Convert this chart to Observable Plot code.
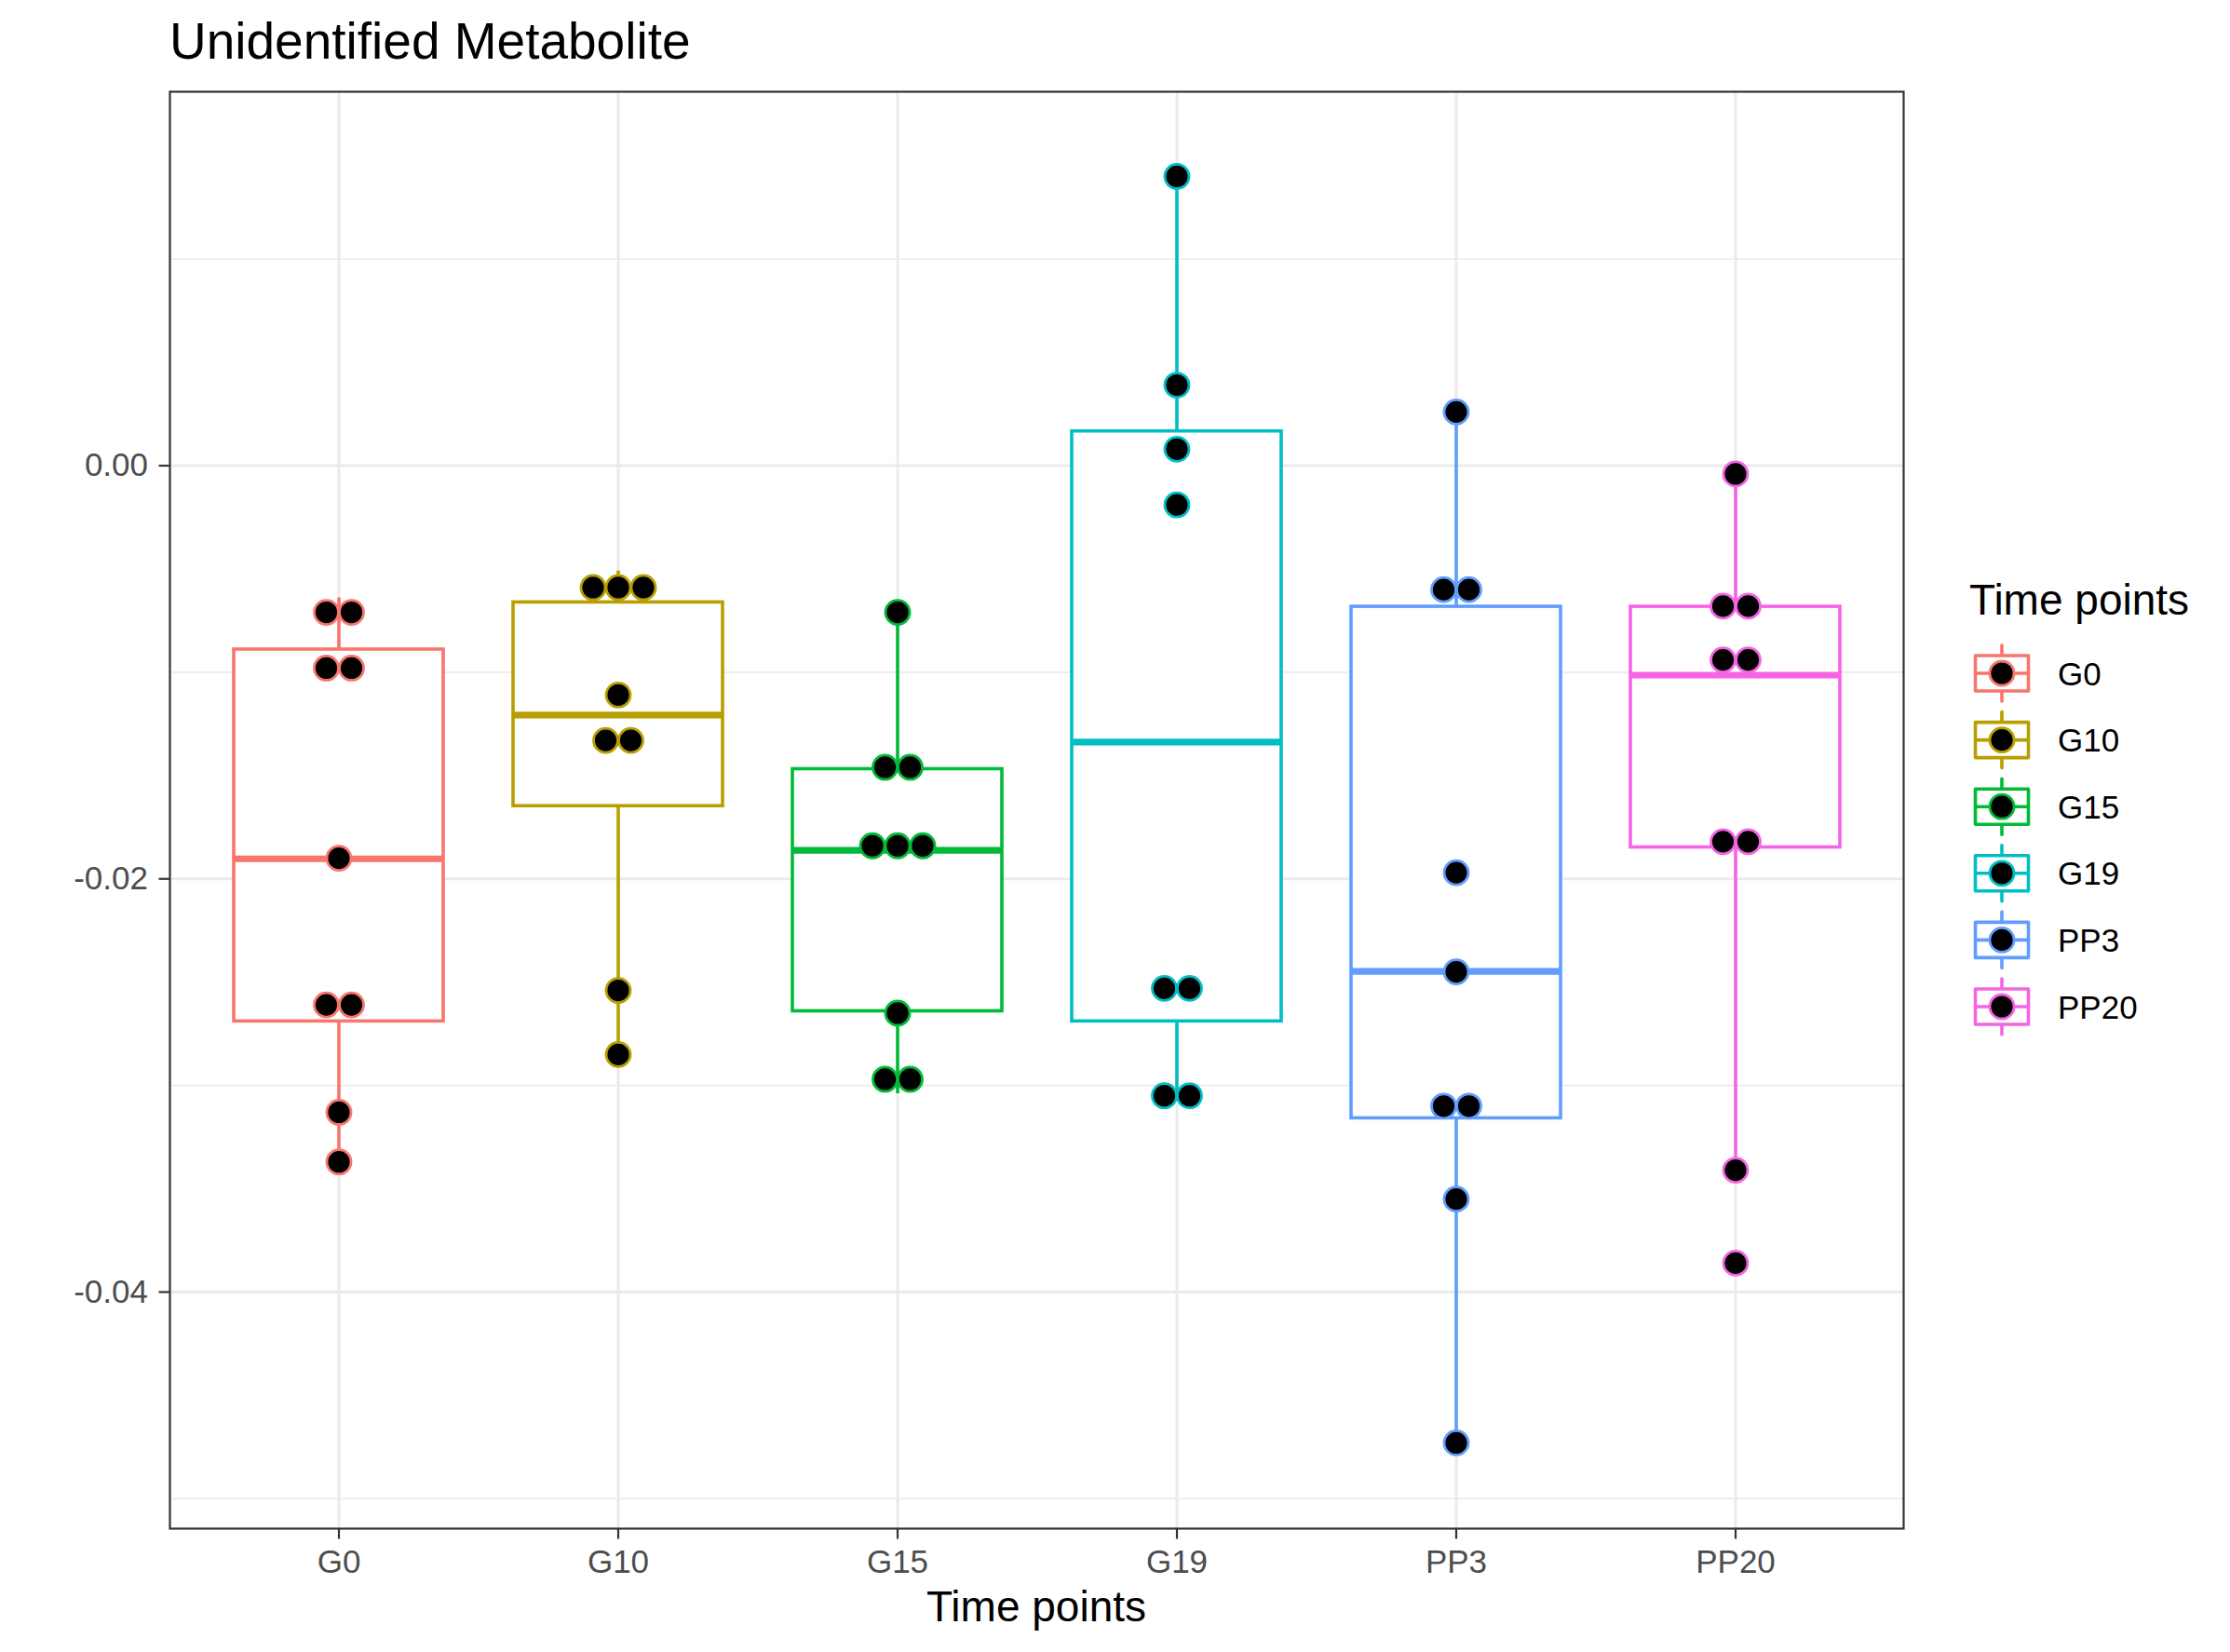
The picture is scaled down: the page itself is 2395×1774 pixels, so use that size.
<!DOCTYPE html>
<html>
<head>
<meta charset="utf-8">
<script src="https://cdn.jsdelivr.net/npm/d3@7"></script>
<script src="https://cdn.jsdelivr.net/npm/@observablehq/plot@0.6"></script>
<style>
  body { margin: 0; background: #ffffff; }
  #chart svg { display: block; }
</style>
</head>
<body>
<div id="chart"></div>
<script>
// ---------- data ----------
const groups = ["G0", "G10", "G15", "G19", "PP3", "PP20"];
const colors = ["#F8766D", "#B79F00", "#00BA38", "#00BFC4", "#619CFF", "#F564E3"];

// box statistics per group
const whiskerLow  = [-0.03366, -0.02848, -0.0304, -0.0305, -0.0473, -0.03414];
const q1          = [-0.0269, -0.01648, -0.02641, -0.0269, -0.03159, -0.01848];
const median      = [-0.01903, -0.01207, -0.01862, -0.01338, -0.02448, -0.01014];
const q3          = [-0.0089, -0.00662, -0.01469, 0.00166, -0.00683, -0.00683];
const whiskerHigh = [-0.0064, -0.0051, -0.0071, 0.0140, 0.00255, -0.00034];

// dot (binned) values per group
const dotsG0   = [-0.0071, -0.0071, -0.0098, -0.0098, -0.0190, -0.0261, -0.0261, -0.0313, -0.0337];
const dotsG10  = [-0.0059, -0.0059, -0.0059, -0.0111, -0.0133, -0.0133, -0.0254, -0.0285];
const dotsG15  = [-0.0071, -0.0146, -0.0146, -0.0184, -0.0184, -0.0184, -0.0265, -0.0297, -0.0297];
const dotsG19  = [0.0140, 0.0039, 0.0008, -0.0019, -0.0253, -0.0253, -0.0305, -0.0305];
const dotsPP3  = [0.0026, -0.0060, -0.0060, -0.0197, -0.0245, -0.0310, -0.0310, -0.0355, -0.0473];
const dotsPP20 = [-0.0004, -0.0068, -0.0068, -0.0094, -0.0094, -0.0182, -0.0182, -0.0341, -0.0386];

const yTicks = [0, -0.02, -0.04];
const yMinor = [0.01, -0.01, -0.03, -0.05];

const titleText = "Unidentified Metabolite";
const xTitle = "Time points";
const legendTitle = "Time points";

// ---------- derived tables ----------
const stats = groups.map((g, i) => ({
  group: g, lo: whiskerLow[i], q1: q1[i], med: median[i], q3: q3[i], hi: whiskerHigh[i]
}));

const dotLists = [dotsG0, dotsG10, dotsG15, dotsG19, dotsPP3, dotsPP20];
const points = [];
groups.forEach((g, i) => {
  const byVal = d3.group(dotLists[i], v => v);
  for (const [v, arr] of byVal) {
    const n = arr.length;
    arr.forEach((_, k) => points.push({ group: g, value: v, slot: k - (n - 1) / 2 }));
  }
});
const slots = Array.from(new Set(points.map(p => p.slot))).sort((a, b) => a - b);

const W = 2395, H = 1774;
const FONT = "'Liberation Sans', Arial, Helvetica, sans-serif";
const dotSpacing = 27;
const LW = 3.6;

const dotMarks = slots.map(s => Plot.dot(points.filter(p => p.slot === s), {
  x: "group", y: "value", r: 13, fill: "black", stroke: "group", strokeWidth: 2.8, dx: s * dotSpacing
}));

const chart = Plot.plot({
  width: W,
  height: H,
  marginLeft: 182,
  marginRight: 351,
  marginTop: 98,
  marginBottom: 133,
  style: { fontFamily: FONT, background: "#ffffff", overflow: "visible" },
  x: { type: "band", domain: groups, paddingInner: 0.25, paddingOuter: 0.225, align: 0.5 },
  y: { domain: [-0.05145, 0.0181] },
  color: { domain: groups, range: colors },
  marks: [
    Plot.ruleY(yMinor, { y: d => d, stroke: "#EBEBEB", strokeWidth: 1.6 }),
    Plot.ruleY(yTicks, { y: d => d, stroke: "#EBEBEB", strokeWidth: 3 }),
    Plot.ruleX(groups, { x: d => d, stroke: "#EBEBEB", strokeWidth: 3 }),
    Plot.ruleX(stats, { x: "group", y1: "q3", y2: "hi", stroke: "group", strokeWidth: LW }),
    Plot.ruleX(stats, { x: "group", y1: "lo", y2: "q1", stroke: "group", strokeWidth: LW }),
    Plot.barY(stats, { x: "group", y1: "q1", y2: "q3", fill: "white", stroke: "group", strokeWidth: LW }),
    Plot.tickY(stats, { x: "group", y: "med", stroke: "group", strokeWidth: LW * 2 }),
    ...dotMarks,
    Plot.frame({ stroke: "#333333", strokeWidth: 2.2 }),
    Plot.axisY({ ticks: yTicks, tickFormat: d => d.toFixed(2), tickSize: 11.5, tickPadding: 12,
      fontSize: 35, fill: "#4D4D4D", stroke: "#333333", strokeWidth: 2.2, label: null }),
    Plot.axisX({ tickSize: 11.5, tickPadding: 11.5, fontSize: 35, fill: "#4D4D4D",
      stroke: "#333333", strokeWidth: 2.2, label: null })
  ]
});

document.getElementById("chart").append(chart);

// ---------- titles and legend ----------
const svg = d3.select(chart);

svg.append("text")
  .attr("x", 182).attr("y", 63).attr("text-anchor", "start")
  .attr("font-family", FONT).attr("font-size", 55).attr("fill", "#000")
  .text(titleText);

svg.append("text")
  .attr("x", 1113).attr("y", 1741).attr("text-anchor", "middle")
  .attr("font-family", FONT).attr("font-size", 46).attr("fill", "#000")
  .text(xTitle);

const leg = svg.append("g").attr("font-family", FONT).attr("text-anchor", "start");
leg.append("text")
  .attr("x", 2115).attr("y", 660).attr("text-anchor", "start")
  .attr("font-size", 46).attr("fill", "#000")
  .text(legendTitle);

const keyCx = 2150, keyY0 = 723, keyStep = 71.6;
groups.forEach((g, i) => {
  const cy = keyY0 + i * keyStep;
  const c = colors[i];
  const k = leg.append("g");
  k.append("line").attr("x1", keyCx).attr("x2", keyCx).attr("y1", cy - 30).attr("y2", cy + 30)
    .attr("stroke", c).attr("stroke-width", LW).attr("stroke-linecap", "round");
  k.append("rect").attr("x", keyCx - 28.5).attr("y", cy - 19).attr("width", 57).attr("height", 38)
    .attr("fill", "white").attr("stroke", c).attr("stroke-width", LW).attr("stroke-linejoin", "round");
  k.append("line").attr("x1", keyCx - 28.5).attr("x2", keyCx + 28.5).attr("y1", cy).attr("y2", cy)
    .attr("stroke", c).attr("stroke-width", LW);
  k.append("circle").attr("cx", keyCx).attr("cy", cy).attr("r", 13)
    .attr("fill", "black").attr("stroke", c).attr("stroke-width", 2.8);
  leg.append("text").attr("x", 2210).attr("y", cy + 12.5).attr("text-anchor", "start")
    .attr("font-size", 35).attr("fill", "#000").text(g);
});
</script>
</body>
</html>
